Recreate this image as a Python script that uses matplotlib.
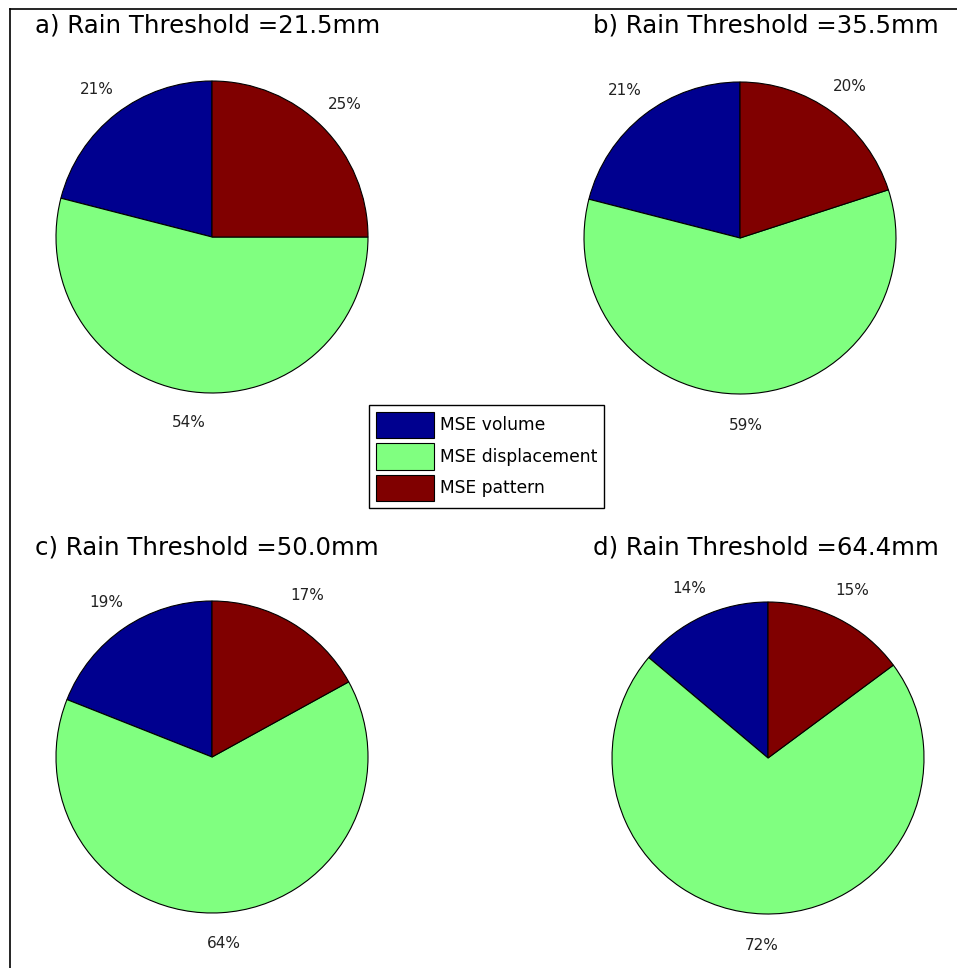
import numpy as np
import matplotlib
matplotlib.use("Agg")
import matplotlib.pyplot as plt
from matplotlib.lines import Line2D

# ------------------------------
# Data (percent of total MSE)
# ------------------------------
components = ["MSE volume", "MSE displacement", "MSE pattern"]
titles = ["a) Rain Threshold =21.5mm", "b) Rain Threshold =35.5mm",
          "c) Rain Threshold =50.0mm", "d) Rain Threshold =64.4mm"]
mse_volume = [21, 21, 19, 14]
mse_displacement = [54, 59, 64, 72]
mse_pattern = [25, 20, 17, 15]

colors = ["#00008f", "#80ff80", "#800000"]

W, H = 957, 968
fig = plt.figure(figsize=(W / 100, H / 100), dpi=100)
plt.rcParams["font.family"] = "DejaVu Sans"

# pixel layout: pie centres, radius, title anchors
centres = [(212, 237), (740, 238), (212, 757), (768, 758)]
radius = 156
title_xy = [(35, 33), (593, 33), (35, 554), (593, 554)]

handles = None
for i in range(4):
    cx, cy = centres[i]
    ax = fig.add_axes([(cx - radius) / W, 1 - (cy + radius) / H,
                       2 * radius / W, 2 * radius / H])
    vals = [mse_volume[i], mse_displacement[i], mse_pattern[i]]
    wedges, texts = ax.pie(vals, colors=colors, startangle=90, counterclock=True,
                           labels=[f"{v}%" for v in vals], labeldistance=1.2,
                           wedgeprops=dict(edgecolor="black", linewidth=0.8),
                           textprops=dict(fontsize=11, color="#222222"))
    for t in texts:
        t.set_ha("center")
        t.set_va("center")
    ax.set_xlim(-1, 1)
    ax.set_ylim(-1, 1)
    ax.set_aspect("equal")
    ax.axis("off")
    if handles is None:
        handles = wedges
    tx, ty = title_xy[i]
    fig.text(tx / W, 1 - ty / H, titles[i], fontsize=17.6, ha="left", va="baseline")

# legend in the middle
leg = fig.legend(handles, components, loc="upper left",
                 bbox_to_anchor=(369 / W, 1 - 405 / H), bbox_transform=fig.transFigure,
                 fontsize=12.3, handlelength=3.4, handleheight=2.0,
                 labelspacing=0.3, borderpad=0.4, handletextpad=0.35,
                 borderaxespad=0, fancybox=False, framealpha=1)
leg.get_frame().set_edgecolor("black")
leg.get_frame().set_linewidth(1.0)

# frame lines (top and left) of the original window
fig.add_artist(Line2D([10 / W, 1], [1 - 9 / H, 1 - 9 / H], color="black", lw=1.2,
                      transform=fig.transFigure))
fig.add_artist(Line2D([10 / W, 10 / W], [0, 1 - 9 / H], color="black", lw=1.2,
                      transform=fig.transFigure))

fig.savefig("out.png", dpi=100)
